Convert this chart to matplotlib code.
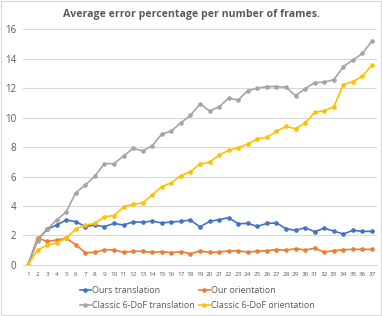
import matplotlib
matplotlib.use("Agg")
import matplotlib.pyplot as plt
from matplotlib.patches import Rectangle

frames = list(range(1, 38))

ours_translation = [0, 1.70, 2.42, 2.71, 3.05, 2.94, 2.60, 2.71, 2.60, 2.82,
                    2.71, 2.92, 2.90, 2.98, 2.85, 2.92, 2.96, 3.05, 2.58, 2.96,
                    3.07, 3.21, 2.80, 2.82, 2.62, 2.82, 2.85, 2.46, 2.35, 2.53,
                    2.26, 2.49, 2.30, 2.10, 2.35, 2.28, 2.28]
ours_orientation = [0, 1.83, 1.60, 1.69, 1.81, 1.38, 0.84, 0.86, 1.04, 1.02,
                    0.86, 0.93, 0.93, 0.86, 0.90, 0.84, 0.90, 0.77, 0.95, 0.86,
                    0.88, 0.95, 0.95, 0.88, 0.93, 0.97, 1.04, 1.00, 1.11, 1.02,
                    1.13, 0.88, 0.97, 1.04, 1.06, 1.06, 1.06]
classic_translation = [0, 1.65, 2.42, 3.05, 3.60, 4.90, 5.42, 6.03, 6.87, 6.87,
                       7.39, 7.91, 7.73, 8.09, 8.88, 9.08, 9.65, 10.14, 10.93, 10.44,
                       10.73, 11.30, 11.19, 11.82, 11.98, 12.10, 12.10, 12.05, 11.48, 11.96,
                       12.36, 12.40, 12.56, 13.45, 13.90, 14.35, 15.20]
classic_orientation = [0, 1.02, 1.33, 1.51, 1.81, 2.44, 2.71, 2.82, 3.28, 3.35,
                       3.93, 4.11, 4.20, 4.75, 5.31, 5.58, 6.06, 6.33, 6.85, 6.96,
                       7.46, 7.77, 7.95, 8.20, 8.56, 8.65, 9.06, 9.40, 9.24, 9.63,
                       10.35, 10.46, 10.73, 12.23, 12.43, 12.80, 13.56]

series = [
    ("Ours translation", ours_translation, "#4472C4"),
    ("Our orientation", ours_orientation, "#ED7D31"),
    ("Classic 6-DoF translation", classic_translation, "#A5A5A5"),
    ("Classic 6-DoF orientation", classic_orientation, "#FFC000"),
]

text_color = "#595959"
plt.rcParams['font.family'] = ['Open Sans', 'DejaVu Sans']

fig = plt.figure(figsize=(3.82, 3.16), dpi=100)
ax = fig.add_axes([0.0607, 0.1614, 0.9257, 0.7468])

lines = []
for name, vals, color in series:
    ln, = ax.plot(frames, vals, color=color, linewidth=1.2, marker='o',
                  markersize=2.3, label=name)
    lines.append(ln)

ax.set_xlim(0.5, 37.5)
ax.set_ylim(0, 16)
ax.set_yticks(range(0, 17, 2))
ax.set_xticks(frames)
ax.set_xticklabels([str(f) for f in frames])
ax.grid(axis='y', color='#D9D9D9', linewidth=0.8)
ax.set_axisbelow(True)
for side in ['left', 'right', 'top']:
    ax.spines[side].set_visible(False)
ax.spines['bottom'].set_color('#D9D9D9')
ax.tick_params(axis='both', length=0, colors=text_color)
ax.tick_params(axis='y', labelsize=7, pad=5)
ax.tick_params(axis='x', labelsize=4.6, pad=5)

fig.suptitle("Average error percentage per number of frames.", x=0.502, y=0.972,
             fontsize=7.6, fontweight='bold', color=text_color)

# legend fills column-wise, so reorder to get row-wise order
order = [0, 2, 1, 3]
ax.legend([lines[i] for i in order], [series[i][0] for i in order],
          loc='upper left', bbox_to_anchor=(0.15, -0.075), ncol=2, frameon=False,
          fontsize=6.5, labelcolor=text_color, handlelength=1.2, handletextpad=0.2,
          columnspacing=0.4, labelspacing=0.6, borderaxespad=0)

fig.patches.append(Rectangle((0.002, 0.003), 0.995, 0.993, transform=fig.transFigure,
                             fill=False, edgecolor='#D9D9D9', linewidth=0.8))

fig.savefig("out.png", dpi=100)
